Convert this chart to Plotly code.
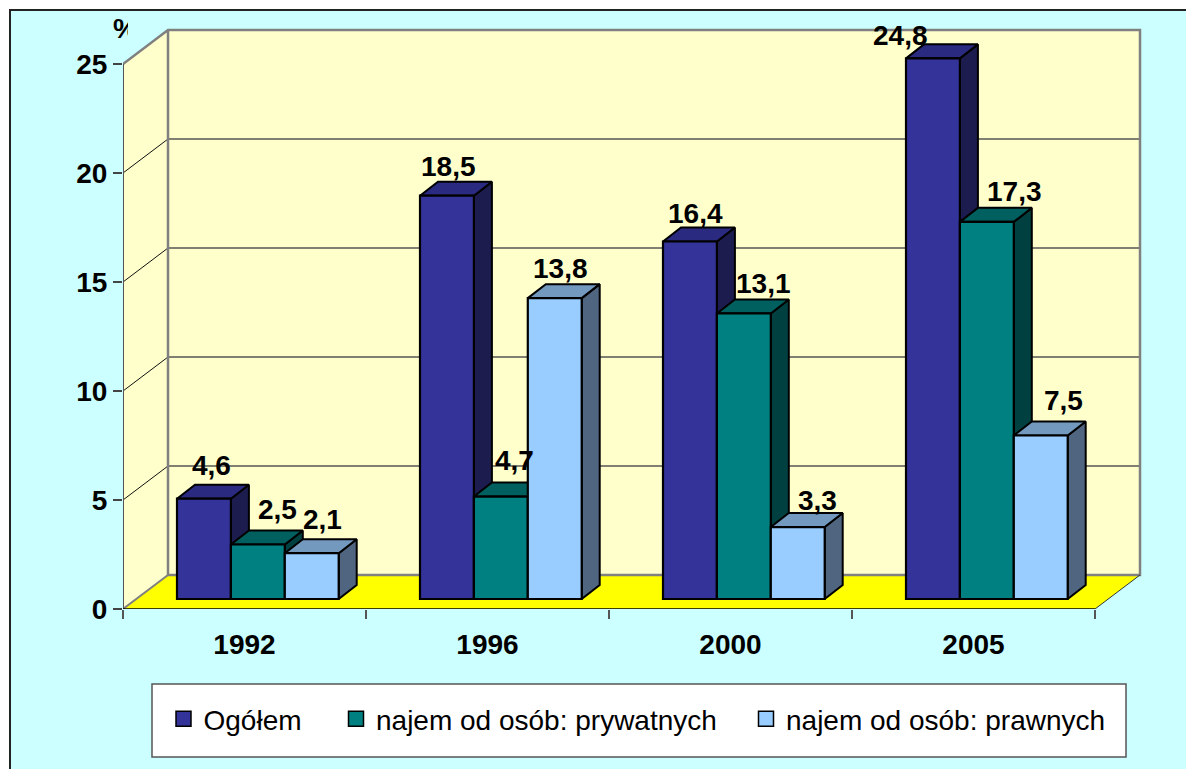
import plotly.graph_objects as go

categories = ["1992", "1996", "2000", "2005"]
series_names = ["Ogółem", "najem od osób: prywatnych", "najem od osób: prawnych"]
ogolem = [4.6, 18.5, 16.4, 24.8]
prywatnych = [2.5, 4.7, 13.1, 17.3]
prawnych = [2.1, 13.8, 3.3, 7.5]
y_ticks = [0, 5, 10, 15, 20, 25]
labels_text = [["4,6", "18,5", "16,4", "24,8"], ["2,5", "4,7", "13,1", "17,3"], ["2,1", "13,8", "3,3", "7,5"]]

# label offsets in pixels relative to the top centre of each front face
label_dx = [[8, 2, 6, -32], [20, 14, 20, 28], [11, 6, 20, 23]]
label_dy = [[33, 29, 28, 23], [35, 36, 30, 30], [34, 30, 27, 35]]

FRONT = ["#333399", "#008080", "#99CCFF"]
SIDE = ["#1C1C4F", "#004040", "#506680"]
TOP = ["#2A2A80", "#006060", "#7399BF"]
values = [ogolem, prywatnych, prawnych]

W, H = 1186, 769
L, R, T, B = 123, 1150, 12, 609
PX = (1095 - L) / 4.0
PY = (B - 64) / 25.0
FONT = "Liberation Sans"


def px(p):
    return (p - L) / (R - L)


def py(p):
    return (B - p) / (B - T)


WALL_DX, WALL_DY = 45 / PX, 34 / PY
BAR_DX, BAR_DY = 18 / PX, 14 / PY
BAR_W = 53.9 / PX
BAR_X0 = 54 / PX
BAR_BASE = 10 / PY

fig = go.Figure()


def poly(xs, ys, fill, line="rgba(0,0,0,0)", width=0, zorder=0):
    fig.add_trace(go.Scatter(x=xs, y=ys, mode="lines", fill="toself", fillcolor=fill,
                             line=dict(color=line, width=width), cliponaxis=False,
                             hoverinfo="skip", showlegend=False, zorder=zorder))


def stroke(xs, ys, color, width):
    fig.add_trace(go.Scatter(x=xs, y=ys, mode="lines", line=dict(color=color, width=width),
                             cliponaxis=False, hoverinfo="skip", showlegend=False))


# percent sign sits behind a mask
fig.add_trace(go.Scatter(x=[(125.5 - L) / PX], y=[(B - 31) / PY], mode="text", text=["%"],
                         textfont=dict(family=FONT, size=28, color="#000000", weight="bold"),
                         cliponaxis=False, hoverinfo="skip", showlegend=False))

# walls and floor
n = len(categories)
poly([0, WALL_DX, WALL_DX, 0, 0], [0, WALL_DY, 25 + WALL_DY, 25, 0], "#FFFFCC")
poly([WALL_DX, n + WALL_DX, n + WALL_DX, WALL_DX, WALL_DX],
     [WALL_DY, WALL_DY, 25 + WALL_DY, 25 + WALL_DY, WALL_DY], "#FFFFCC")
poly([0, n, n + WALL_DX, WALL_DX, 0], [0, 0, WALL_DY, WALL_DY, 0], "#FFFF00")

# gridlines
for v in y_ticks[1:-1]:
    stroke([0, WALL_DX], [v, v + WALL_DY], "#111111", 1)
    stroke([WALL_DX, n + WALL_DX], [v + WALL_DY, v + WALL_DY], "#555555", 1.5)

# wall outline
stroke([0, WALL_DX, n + WALL_DX, n + WALL_DX, WALL_DX, WALL_DX], [25, 25 + WALL_DY, 25 + WALL_DY, WALL_DY, WALL_DY, 25 + WALL_DY],
       "#808080", 2.5)
stroke([0, WALL_DX], [0, WALL_DY], "#808080", 2)
stroke([n, n + WALL_DX], [0, WALL_DY], "#333333", 1)

# axis lines
stroke([0, 0], [0, 25], "#555555", 2)
stroke([0, n], [0, 0], "#000000", 1.5)

# bars
zo = 10
for s, vals in enumerate(values):
    xl = [i + BAR_X0 + s * BAR_W for i in range(n)]
    side_x, side_y, top_x, top_y = [], [], [], []
    for x0, v in zip(xl, vals):
        x1 = x0 + BAR_W
        t = BAR_BASE + v
        side_x += [x1, x1 + BAR_DX, x1 + BAR_DX, x1, x1, None]
        side_y += [BAR_BASE, BAR_BASE + BAR_DY, t + BAR_DY, t, BAR_BASE, None]
        top_x += [x0, x0 + BAR_DX, x1 + BAR_DX, x1, x0, None]
        top_y += [t, t + BAR_DY, t + BAR_DY, t, t, None]
    poly(side_x, side_y, SIDE[s], "#000000", 2, zo)
    poly(top_x, top_y, TOP[s], "#000000", 2, zo)
    fig.add_trace(go.Bar(x=[x + BAR_W / 2 for x in xl], y=vals, base=BAR_BASE, width=BAR_W,
                         marker=dict(color=FRONT[s], line=dict(color="#000000", width=2.2)),
                         cliponaxis=False, hoverinfo="skip", showlegend=False, zorder=zo + 1))
    zo += 2
    # legend entries
    fig.add_trace(go.Scatter(x=[None], y=[None], mode="markers", name=series_names[s],
                             marker=dict(symbol="square", size=15, color=FRONT[s],
                                         line=dict(color="#000000", width=1.5)),
                             legend=["legend", "legend2", "legend3"][s]))

annotations = []
for s, vals in enumerate(values):
    for i, v in enumerate(vals):
        annotations.append(dict(x=i + BAR_X0 + (s + 0.5) * BAR_W, y=BAR_BASE + v, xref="x", yref="y",
                                text=labels_text[s][i], showarrow=False, xanchor="center", yanchor="middle",
                                xshift=label_dx[s][i], yshift=label_dy[s][i],
                                font=dict(family=FONT, size=28, color="#000000", weight="bold")))


def legend_at(x_px, y_px):
    return dict(x=px(x_px), y=py(y_px), xanchor="left", yanchor="middle", orientation="h",
                bgcolor="rgba(0,0,0,0)", borderwidth=0,
                font=dict(family=FONT, size=28, color="#000000"), itemclick=False, itemdoubleclick=False)


shapes = [
    dict(type="rect", xref="paper", yref="paper", x0=px(10), x1=px(W + 5), y0=py(H + 5), y1=py(10),
         fillcolor="#CCFFFF", line=dict(color="#222222", width=2), layer="below"),
    dict(type="rect", xref="paper", yref="paper", x0=px(152), x1=px(1126), y0=py(757), y1=py(684),
         fillcolor="#FFFFFF", line=dict(color="#555555", width=1.5), layer="below"),
    dict(type="rect", xref="paper", yref="paper", x0=px(128), x1=px(142), y0=py(47), y1=py(14),
         fillcolor="#CCFFFF", line=dict(width=0), layer="above"),
]

fig.update_layout(
    width=W, height=H, autosize=False,
    margin=dict(l=L, r=W - R, t=T, b=H - B, pad=0),
    paper_bgcolor="#FFFFFF", plot_bgcolor="rgba(0,0,0,0)",
    barmode="overlay", showlegend=True,
    font=dict(family=FONT, size=28, color="#000000"),
    xaxis=dict(range=[0, (R - L) / PX], tickmode="array", tickvals=[i + 0.5 for i in range(n)], ticktext=categories,
               ticks="outside", ticklen=0, showgrid=False, zeroline=False, showline=False,
               ticklabelstandoff=10,
               tickfont=dict(family=FONT, size=28, color="#000000", weight="bold"),
               minor=dict(tickmode="array", tickvals=list(range(n + 1)), ticks="outside", ticklen=9,
                          tickcolor="#555555", tickwidth=1.5, showgrid=False)),
    yaxis=dict(range=[0, (B - T) / PY], tickmode="array", tickvals=y_ticks, ticktext=[str(t) for t in y_ticks],
               ticks="outside", ticklen=9, tickcolor="#444444", tickwidth=1.5, showgrid=False, zeroline=False,
               showline=False, ticklabelstandoff=0,
               tickfont=dict(family=FONT, size=28, color="#000000", weight="bold")),
    shapes=shapes, annotations=annotations,
    legend=legend_at(163.5, 719), legend2=legend_at(336, 719), legend3=legend_at(746, 719),
)

fig.write_html("out.html", config=dict(displayModeBar=False),
               post_script="document.body.style.margin='0';document.body.style.overflow='hidden';")
